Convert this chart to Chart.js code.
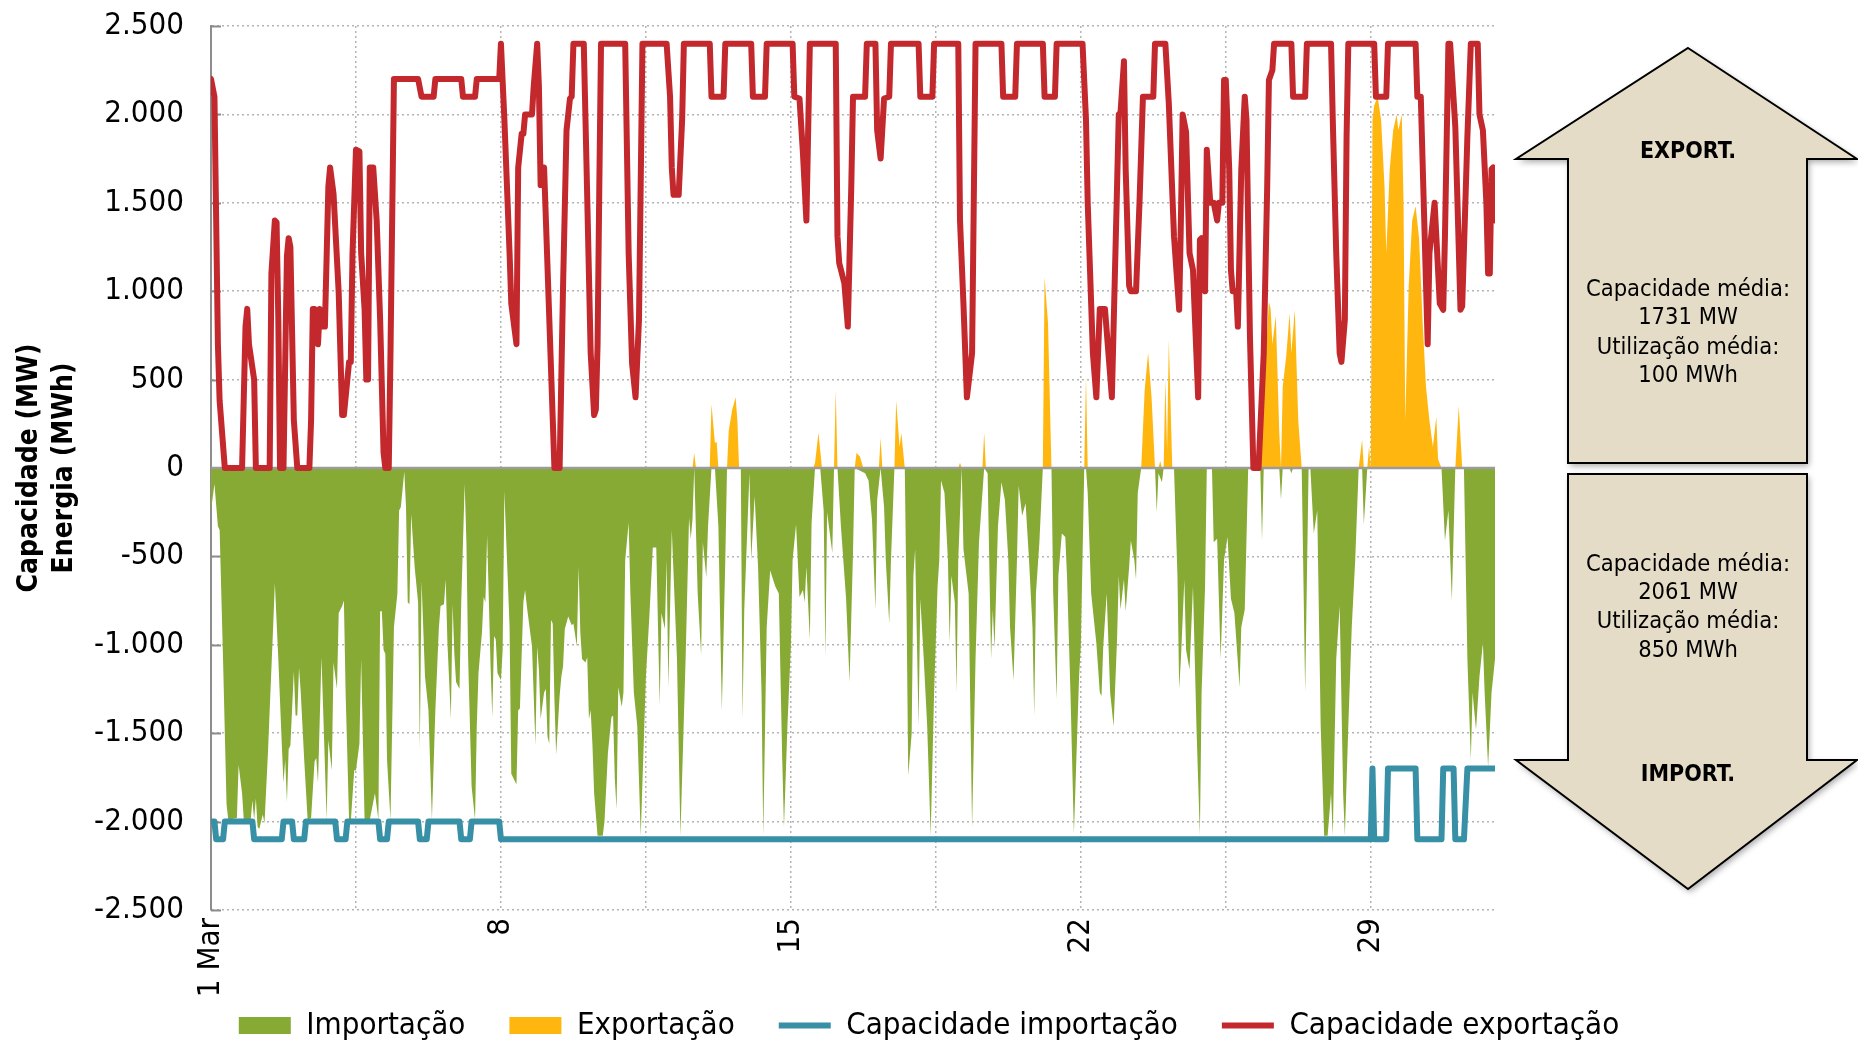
<!DOCTYPE html>
<html>
<head>
<meta charset="utf-8">
<script src="https://cdn.jsdelivr.net/npm/chart.js@4/dist/chart.umd.min.js"></script>
<style>
html,body{margin:0;padding:0;background:#fff;}
#wrap{width:1858px;height:1044px;position:relative;}
canvas{display:block;}
</style>
</head>
<body>
<div id="wrap"><canvas id="c" width="1858" height="1044"></canvas></div>
<script>
// ---------- DATA (hour of month, value) ----------
const seriesNames = ['Importação', 'Exportação', 'Capacidade importação', 'Capacidade exportação'];

const dayTickHours = [0, 168, 336, 504, 672];
const dayTickLabels = ['1 Mar', '8', '15', '22', '29'];

const exportCapacity = [[0,2200],[2,2100],[4,700],[5,380],[8,0],[18,0],[20,800],[21,900],[22,700],[25,500],[26,0],[34,0],[35,1100],[37,1400],[38,1390],[39,850],[40,0],[42,0],[44,1200],[45,1300],[46,1250],[48,270],[50,0],[57,0],[58,270],[59,900],[60,900],[62,700],[63,900],[64,800],[66,800],[68,1590],[69,1700],[71,1550],[74,990],[76,300],[77,300],[79,500],[80,600],[81,600],[82,1215],[84,1800],[86,1790],[87,1215],[89,895],[90,500],[91,500],[92,1700],[94,1700],[96,1400],[98,840],[100,85],[101,0],[103,0],[104,650],[106,2200],[120,2200],[122,2100],[129,2100],[130,2200],[145,2200],[146,2100],[153,2100],[154,2200],[167,2200],[168,2400],[170,1970],[173,1215],[174,930],[177,700],[178,1700],[180,1890],[181,1890],[182,2000],[186,2000],[187,2160],[189,2400],[190,2160],[191,1600],[193,1700],[199,0],[202,0],[204,1030],[206,1910],[208,2090],[209,2100],[210,2400],[216,2400],[217,1970],[220,650],[222,300],[223,330],[224,700],[225,1590],[226,2400],[240,2400],[242,1215],[244,590],[246,400],[248,840],[250,2400],[264,2400],[266,2100],[267,1700],[268,1545],[271,1545],[273,1970],[274,2400],[289,2400],[290,2100],[297,2100],[298,2400],[313,2400],[314,2100],[321,2100],[322,2400],[337,2400],[338,2100],[341,2090],[343,1780],[345,1400],[347,2400],[362,2400],[363,1310],[364,1160],[367,1045],[369,800],[371,1590],[372,2100],[379,2100],[380,2400],[385,2400],[386,1910],[388,1750],[390,2090],[393,2100],[394,2400],[410,2400],[411,2100],[418,2100],[419,2400],[433,2400],[434,1400],[436,930],[438,400],[441,650],[443,2400],[458,2400],[459,2100],[466,2100],[467,2400],[482,2400],[483,2100],[489,2100],[490,2400],[505,2400],[507,1970],[508,1500],[510,930],[511,650],[513,400],[515,900],[518,900],[520,650],[522,400],[525,1590],[526,2000],[527,2010],[529,2300],[530,1690],[532,1030],[533,1000],[536,1000],[538,1500],[540,2100],[546,2100],[547,2400],[553,2400],[555,2060],[558,1310],[561,895],[562,1400],[563,2000],[565,1900],[567,1215],[569,1120],[572,400],[573,1290],[574,1300],[576,1000],[577,1800],[579,1500],[581,1500],[583,1400],[584,1500],[586,1500],[587,2195],[588,2195],[590,1690],[591,1120],[592,1000],[594,1000],[595,800],[597,1690],[599,2100],[600,1970],[602,745],[604,0],[607,0],[610,650],[612,1590],[613,2195],[615,2250],[616,2400],[626,2400],[627,2100],[634,2100],[635,2400],[649,2400],[650,1970],[652,1215],[654,650],[655,600],[657,840],[658,1875],[659,2400],[674,2400],[675,2100],[681,2100],[682,2400],[698,2400],[699,2100],[701,2100],[703,1400],[705,700],[706,1215],[709,1500],[710,1310],[712,930],[714,895],[715,1310],[717,2400],[718,2400],[721,1930],[722,1590],[724,895],[725,915],[728,1875],[730,2400],[734,2400],[735,2000],[737,1910],[739,1500],[740,1100],[741,1100],[742,1690],[743,1700],[744,1400]];

const importCapacity = [[0,-2000],[2,-2000],[3,-2100],[7,-2100],[8,-2000],[24,-2000],[25,-2100],[41,-2100],[42,-2000],[47,-2000],[48,-2100],[54,-2100],[55,-2000],[72,-2000],[73,-2100],[78,-2100],[79,-2000],[97,-2000],[98,-2100],[102,-2100],[103,-2000],[120,-2000],[121,-2100],[125,-2100],[126,-2000],[144,-2000],[145,-2100],[150,-2100],[151,-2000],[167,-2000],[168,-2100],[672,-2100],[673,-1700],[674,-2100],[681,-2100],[682,-1700],[698,-1700],[699,-2100],[713,-2100],[714,-1700],[720,-1700],[721,-2100],[726,-2100],[728,-1700],[744,-1700]];

const importEnergy = [[0,-240],[2,-90],[4,-330],[5,-350],[7,-1090],[9,-1900],[10,-1990],[15,-1980],[16,-1680],[18,-1840],[19,-1990],[23,-1990],[24,-1880],[25,-1990],[26,-1870],[27,-2030],[28,-2040],[30,-1960],[31,-2010],[33,-1610],[34,-1370],[36,-900],[37,-650],[39,-1080],[41,-1560],[42,-1780],[43,-1650],[44,-1890],[45,-1590],[46,-1570],[48,-1150],[49,-1400],[50,-1400],[51,-1130],[52,-1270],[54,-1650],[56,-1990],[58,-1980],[60,-1660],[61,-1640],[62,-1780],[64,-1070],[65,-1370],[67,-1990],[68,-1540],[70,-1710],[71,-1100],[73,-1250],[74,-820],[76,-780],[77,-750],[78,-1270],[80,-1990],[81,-2000],[83,-1710],[84,-1710],[86,-1560],[87,-1080],[89,-1990],[92,-1990],[95,-1840],[97,-1990],[98,-810],[99,-810],[100,-1030],[101,-1050],[102,-1650],[104,-1990],[106,-900],[108,-710],[109,-240],[110,-220],[112,-20],[113,-220],[114,-760],[115,-770],[116,-260],[118,-560],[120,-760],[121,-1590],[122,-640],[124,-1180],[126,-1370],[128,-1990],[130,-1370],[132,-910],[133,-780],[135,-770],[136,-630],[137,-990],[139,-1420],[140,-770],[141,-1050],[142,-1210],[144,-1250],[145,-760],[147,-90],[148,-420],[149,-1080],[151,-1800],[153,-1990],[154,-1460],[155,-1160],[157,-930],[158,-730],[159,-760],[160,-380],[162,-1120],[163,-1410],[164,-950],[165,-970],[166,-1160],[168,-1200],[169,-1030],[170,-130],[171,-390],[173,-900],[174,-1730],[177,-1790],[178,-1370],[179,-1360],[181,-760],[182,-690],[183,-780],[186,-1010],[188,-1570],[189,-1010],[190,-1140],[191,-1420],[193,-1270],[194,-1250],[195,-1520],[196,-1560],[197,-860],[198,-880],[199,-1310],[200,-1620],[202,-1290],[203,-1180],[204,-1120],[205,-910],[207,-840],[209,-890],[210,-880],[212,-1010],[213,-560],[214,-930],[215,-1080],[217,-1100],[218,-1070],[219,-1420],[220,-1370],[221,-1560],[222,-1840],[224,-2080],[227,-2080],[228,-2000],[230,-1610],[232,-1410],[233,-1400],[234,-1760],[235,-1930],[236,-1240],[238,-1350],[239,-1270],[240,-520],[242,-310],[243,-710],[245,-1270],[247,-1460],[249,-2080],[252,-1180],[254,-840],[256,-450],[258,-450],[260,-1340],[261,-820],[263,-910],[264,-520],[265,-1240],[267,-350],[270,-1080],[272,-2080],[275,-1080],[277,-280],[278,-400],[279,-290],[280,0],[282,-710],[284,-1060],[285,-420],[287,-620],[288,-330],[290,0],[292,0],[294,-330],[296,-1370],[298,-520],[299,0],[307,0],[308,-1420],[309,-800],[312,-30],[313,-520],[315,-160],[317,-560],[319,-1270],[320,-2080],[322,-900],[324,-580],[327,-670],[329,-710],[331,-1650],[332,-2030],[334,-1460],[336,-1010],[337,-520],[339,-320],[341,-730],[343,-690],[344,-760],[345,-560],[347,-970],[348,-310],[350,0],[353,0],[355,-240],[356,-1070],[357,-250],[360,-480],[361,0],[363,0],[365,-330],[368,-740],[370,-1210],[372,-480],[373,0],[379,-30],[381,-70],[383,-290],[385,-800],[386,-180],[388,0],[390,-220],[391,-520],[393,-880],[394,-520],[396,0],[402,0],[403,-760],[404,-1740],[406,-1500],[407,-610],[408,-460],[410,-1460],[411,-740],[413,-1080],[415,-1460],[417,-2080],[419,-1270],[421,-670],[422,-520],[423,-70],[425,-140],[427,-520],[428,-990],[429,-610],[431,-760],[432,-1270],[433,-520],[435,0],[436,-460],[439,-710],[441,-2030],[443,-1080],[445,-420],[447,-140],[448,0],[450,-30],[452,-1080],[453,-800],[454,-1020],[456,-330],[458,-80],[460,-180],[462,-520],[463,-900],[465,-1200],[467,-520],[468,-100],[470,-270],[472,-200],[474,-520],[476,-900],[477,-1400],[478,-710],[480,-420],[482,0],[487,0],[488,-710],[490,-1310],[491,-610],[493,-370],[495,-390],[496,-610],[498,-1270],[500,-2070],[503,-1180],[504,-1010],[506,0],[507,0],[508,-140],[510,-710],[513,-990],[515,-1270],[516,-1290],[517,-1010],[519,-710],[521,-1270],[523,-1460],[525,-970],[526,-610],[527,-800],[529,-630],[530,-810],[532,-560],[533,-410],[535,-520],[536,-630],[537,-140],[539,0],[547,0],[548,-250],[549,-30],[551,-80],[552,0],[558,0],[560,-610],[561,-1250],[562,-1080],[564,-630],[565,-1030],[567,-1140],[569,-670],[571,-1460],[573,-2080],[574,-1270],[576,-670],[577,0],[580,0],[581,-420],[583,-400],[585,-1080],[587,-520],[589,-390],[591,-740],[593,-820],[596,-1240],[597,-900],[599,-800],[601,0],[608,0],[609,-410],[610,0],[619,0],[620,-180],[621,0],[625,0],[626,-30],[627,0],[632,0],[634,-1270],[636,0],[637,0],[639,-370],[641,-240],[643,-1460],[645,-2080],[647,-2080],[649,-1840],[650,-2080],[652,-1080],[654,-780],[656,-1840],[657,-2080],[659,-1460],[661,-900],[663,-520],[665,0],[667,0],[668,-320],[670,0],[713,0],[715,-410],[717,-240],[719,-750],[721,0],[726,0],[728,-1080],[730,-1650],[731,-1270],[733,-1480],[735,-1180],[737,-990],[738,-1270],[740,-1690],[742,-1270],[744,-1080]];

const exportEnergy = [[0,0],[279,0],[280,85],[281,0],[289,0],[290,360],[292,140],[293,150],[294,0],[299,0],[300,210],[302,330],[304,400],[305,270],[306,0],[349,0],[350,30],[352,200],[354,0],[361,0],[362,440],[363,0],[373,0],[374,85],[376,65],[378,0],[387,0],[388,170],[389,0],[396,0],[397,380],[399,120],[400,200],[402,0],[433,0],[434,30],[435,0],[447,0],[448,200],[449,0],[482,0],[483,1080],[485,820],[487,0],[506,0],[507,520],[508,0],[539,0],[541,440],[543,650],[545,400],[547,0],[549,0],[550,40],[551,0],[552,0],[553,500],[554,100],[555,725],[557,0],[606,0],[609,250],[611,600],[613,940],[614,900],[615,700],[617,860],[619,200],[620,0],[621,460],[623,630],[625,875],[626,650],[628,895],[630,270],[632,0],[665,0],[667,160],[668,0],[670,0],[671,120],[672,0],[673,1970],[674,2050],[676,2100],[678,1970],[680,1590],[681,1215],[683,1690],[685,1910],[687,2000],[688,1910],[690,2000],[691,1500],[692,270],[694,1030],[696,1400],[698,1480],[700,1300],[702,840],[704,460],[706,270],[708,120],[710,290],[711,50],[713,0],[721,0],[723,350],[725,0],[744,0]];

const exportBox = ['EXPORT.', 'Capacidade média:', '1731 MW', 'Utilização média:', '100 MWh'];
const importBox = ['Capacidade média:', '2061 MW', 'Utilização média:', '850 MWh', 'IMPORT.'];

// ---------- helpers ----------
const toPts = arr => arr.map(p => ({x: p[0], y: p[1]}));
function fmtPt(v) {
  const s = Math.abs(v).toString().replace(/\B(?=(\d{3})+(?!\d))/g, '.');
  return (v < 0 ? '-' : '') + s;
}
const FONT = '"DejaVu Sans Condensed", "DejaVu Sans", sans-serif';
Chart.defaults.font.family = FONT;
Chart.defaults.color = '#000';

const GREEN = '#86AA34', YELLOW = '#FFB70F', BLUE = '#3790A6', RED = '#C3282D';

// zero line above the filled areas, inner tick stubs on the value axis
const axisDecor = {
  id: 'axisDecor',
  afterLayout(chart) {
    // let the rotated day labels run below the (compact) x-axis box without clipping
    chart.scales.x.bottom = chart.height;
  },
  beforeDatasetsDraw(chart) {
    const {ctx, chartArea: a, scales: {y}} = chart;
    ctx.save();
    ctx.strokeStyle = '#8c8c8c';
    ctx.lineWidth = 2;
    y.ticks.forEach(t => {
      const py = Math.round(y.getPixelForValue(t.value)) + 0.5;
      ctx.beginPath(); ctx.moveTo(a.left, py); ctx.lineTo(a.left + 10, py); ctx.stroke();
    });
    ctx.restore();
  },
  beforeDatasetDraw(chart, args) {
    if (args.index !== 2) return;
    const {ctx, chartArea: a, scales: {y}} = chart;
    const y0 = y.getPixelForValue(0);
    ctx.save();
    ctx.strokeStyle = '#9b9b9b';
    ctx.lineWidth = 2.5;
    ctx.beginPath(); ctx.moveTo(a.left, y0); ctx.lineTo(a.right, y0); ctx.stroke();
    ctx.restore();
  }
};

// the two annotation arrows on the right
const arrows = {
  id: 'arrows',
  afterDraw(chart) {
    const ctx = chart.ctx;
    const cx = 1688, hl = 1516, hr = 1857, sl = 1568, sr = 1807;
    const up = [[cx,48],[hr,159],[sr,159],[sr,463],[sl,463],[sl,159],[hl,159]];
    const dn = [[sl,474],[sr,474],[sr,760],[hr,760],[cx,889],[hl,760],[sl,760]];
    [up, dn].forEach(poly => {
      ctx.save();
      ctx.beginPath();
      poly.forEach((p, i) => i ? ctx.lineTo(p[0], p[1]) : ctx.moveTo(p[0], p[1]));
      ctx.closePath();
      ctx.shadowColor = 'rgba(0,0,0,0.35)';
      ctx.shadowBlur = 6; ctx.shadowOffsetX = 2; ctx.shadowOffsetY = 3;
      ctx.fillStyle = '#E4DCC6';
      ctx.fill();
      ctx.shadowColor = 'transparent';
      ctx.lineWidth = 2; ctx.strokeStyle = '#000'; ctx.lineJoin = 'miter';
      ctx.stroke();
      ctx.restore();
    });
    ctx.save();
    ctx.fillStyle = '#000';
    ctx.textAlign = 'center';
    ctx.textBaseline = 'middle';
    ctx.font = 'bold 23px ' + FONT;
    ctx.fillText(exportBox[0], cx, 152);
    ctx.fillText(importBox[4], cx, 775);
    ctx.font = '23.5px ' + FONT;
    [290, 318, 348, 376].forEach((yy, i) => ctx.fillText(exportBox[i + 1], cx, yy));
    [565, 593, 622, 651].forEach((yy, i) => ctx.fillText(importBox[i], cx, yy));
    ctx.restore();
  }
};

new Chart(document.getElementById('c'), {
  type: 'line',
  data: {
    datasets: [
      { label: seriesNames[0], data: toPts(importEnergy), fill: 'origin', backgroundColor: GREEN, borderColor: GREEN, borderWidth: 0, pointStyle: 'rect', order: 4 },
      { label: seriesNames[1], data: toPts(exportEnergy), fill: 'origin', backgroundColor: YELLOW, borderColor: YELLOW, borderWidth: 0, pointStyle: 'rect', order: 3 },
      { label: seriesNames[2], data: toPts(importCapacity), fill: false, backgroundColor: BLUE, borderColor: BLUE, borderWidth: 6, pointStyle: 'line', borderJoinStyle: 'round', borderCapStyle: 'round', order: 2 },
      { label: seriesNames[3], data: toPts(exportCapacity), fill: false, backgroundColor: RED, borderColor: RED, borderWidth: 6, pointStyle: 'line', borderJoinStyle: 'round', borderCapStyle: 'round', order: 1 }
    ]
  },
  options: {
    responsive: false,
    animation: false,
    devicePixelRatio: 1,
    events: [],
    layout: { padding: { top: 26, left: 0, right: 0, bottom: 0 } },
    elements: { point: { radius: 0, hitRadius: 0, hoverRadius: 0 }, line: { tension: 0 } },
    plugins: {
      tooltip: { enabled: false },
      legend: {
        position: 'bottom',
        maxHeight: 78,
        labels: {
          usePointStyle: true,
          pointStyleWidth: 52,
          boxHeight: 17,
          padding: 44,
          color: '#000',
          font: { size: 31 },
          sort: (a, b) => a.datasetIndex - b.datasetIndex
        }
      }
    },
    scales: {
      x: {
        type: 'linear',
        min: 0, max: 744,
        afterBuildTicks: s => { s.ticks = s.ticks.filter(t => t.value % 84 === 0 && t.value < 744); },
        afterFit: s => { s.height = 56; },
        ticks: {
          stepSize: 84, autoSkip: false, minRotation: 90, maxRotation: 90, padding: 8,
          font: { size: 31 }, color: '#000',
          callback: v => { const i = dayTickHours.indexOf(v); return i >= 0 ? dayTickLabels[i] : ''; }
        },
        grid: { color: '#b4b4b4', lineWidth: 1.5, drawTicks: false },
        border: { display: false, dash: [2, 3] }
      },
      y: {
        type: 'linear',
        min: -2500, max: 2500,
        afterFit: s => { s.width = 211; },
        ticks: { stepSize: 500, padding: 3, font: { size: 31 }, color: '#000', callback: v => fmtPt(v) },
        grid: {
          color: ctx => (ctx.tick && ctx.tick.value === 0) ? 'rgba(0,0,0,0)' : '#b4b4b4',
          lineWidth: 1.5, drawTicks: true, tickLength: 24, tickColor: 'rgba(0,0,0,0)'
        },
        border: { display: true, color: '#8c8c8c', width: 2, dash: [2, 3] },
        title: {
          display: true,
          text: ['Capacidade (MW)', 'Energia (MWh)'],
          font: { size: 28, weight: 'bold', lineHeight: 1.25 },
          color: '#000',
          padding: { top: 12, bottom: 0 }
        }
      },
      yR: {
        type: 'linear', position: 'right', display: true,
        afterFit: s => { s.width = 363; },
        ticks: { display: false },
        grid: { display: false },
        border: { display: false }
      }
    }
  },
  plugins: [axisDecor, arrows]
});
</script>
</body>
</html>
